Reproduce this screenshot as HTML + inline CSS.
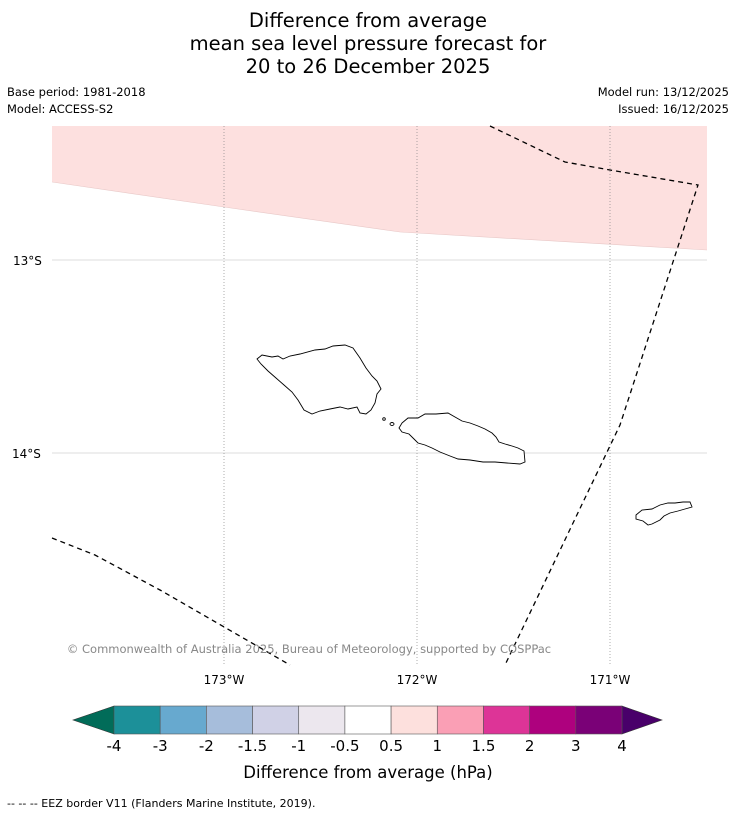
<!DOCTYPE html>
<html><head><meta charset="utf-8"><style>
body{margin:0;background:#fff;font-family:"Liberation Sans","DejaVu Sans",sans-serif;}
#wrap{position:relative;width:736px;height:816px;overflow:hidden;background:#fff;}
.t{position:absolute;white-space:nowrap;}
</style></head><body>
<div id="wrap">
<div class="t" style="left:0;width:736px;top:9px;text-align:center;font-size:19.5px;line-height:23px;font-family:'DejaVu Sans',sans-serif;">Difference from average<br>mean sea level pressure forecast for<br>20 to 26 December 2025</div>
<div class="t" style="left:7px;top:84px;font-size:11.5px;font-family:'DejaVu Sans',sans-serif;line-height:17px;">Base period: 1981-2018<br>Model: ACCESS-S2</div>
<div class="t" style="right:7px;top:84px;font-size:11.5px;font-family:'DejaVu Sans',sans-serif;line-height:17px;text-align:right;">Model run: 13/12/2025<br>Issued: 16/12/2025</div>
<svg width="736" height="816" style="position:absolute;left:0;top:0" font-family="DejaVu Sans, sans-serif">
<g>
<polygon points="52,126 707,126 707,250 400,232 224,207 52,182" fill="#fde0df"/>
<polyline points="52,182 224,207 400,232 707,250" fill="none" stroke="#e8c8c7" stroke-width="0.6"/>
<g stroke="#bbb" stroke-width="0.6">
<line x1="52" y1="260" x2="707" y2="260"/>
<line x1="52" y1="453" x2="707" y2="453"/>
<line x1="224" y1="126" x2="224" y2="665" stroke-dasharray="1,2" stroke="#777"/>
<line x1="417" y1="126" x2="417" y2="665" stroke-dasharray="1,2" stroke="#777"/>
<line x1="610" y1="126" x2="610" y2="665" stroke-dasharray="1,2" stroke="#777"/>
</g>
<g fill="none" stroke="#000" stroke-width="1.3" stroke-dasharray="5,4">
<polyline points="490,126 565,162 610,170 698,185 620,425 505,665"/>
<polyline points="52,538 95,555 160,590 290,665"/>
</g>
<g fill="#fff" stroke="#000" stroke-width="0.9">
<polygon points="257,359 262,355 272,357 278,356 283,359 290,356 300,354 315,350 325,349 333,346 345,345 353,348 360,358 366,368 372,376 377,381 381,389 377,394 375,403 371,410 366,414 360,413 357,407 348,409 340,407 330,409 320,411 312,414 304,410 298,400 292,392 284,385 276,378 268,371 261,364"/>
<polygon points="402,423 408,418 418,418 425,414 436,414 448,413 455,417 462,421 470,423 478,426 485,429 492,433 496,437 499,442 505,444 512,446 518,448 524,451 525,462 520,464 507,463 495,462 483,462 470,460 458,459 450,456 440,452 432,448 425,445 418,443 413,438 409,434 402,432 399,428"/>
<circle cx="384" cy="419" r="1.3"/><ellipse cx="392" cy="424" rx="2" ry="1.5"/>
<polygon points="636,515 642,510 652,509 660,505 668,503 675,503 683,502 690,502 692,507 685,509 678,511 670,513 664,516 660,520 652,524 648,525 643,521 636,519"/>
</g>
<text x="13" y="265" font-size="12">13°S</text>
<text x="12" y="458" font-size="12">14°S</text>
<text x="224" y="684" font-size="12" text-anchor="middle">173°W</text>
<text x="417" y="684" font-size="12" text-anchor="middle">172°W</text>
<text x="610" y="684" font-size="12" text-anchor="middle">171°W</text>
<text x="309" y="653" font-size="11.5" fill="#888" text-anchor="middle">© Commonwealth of Australia 2025, Bureau of Meteorology, supported by COSPPac</text>
</g>
<g id="cbar"></g>
<text x="368" y="778" font-size="16.5" text-anchor="middle">Difference from average (hPa)</text>
<text x="7" y="807" font-size="11">--  --  -- EEZ border V11 (Flanders Marine Institute, 2019).</text>
</svg>
</div>
<script>
const levels=["-4","-3","-2","-1.5","-1","-0.5","0.5","1","1.5","2","3","4"];
const colors=["#1c9099","#67a9cf","#a6bddb","#d0d1e6","#ece7ee","#ffffff","#fde0dd","#fa9fb5","#dd3497","#ae017e","#7a0177"];
const underColor="#016c59";
const overColor="#49006a";
const ns="http://www.w3.org/2000/svg";
const g=document.getElementById('cbar');
const x0=114,x1=622,y0=706,y1=734;
const w=(x1-x0)/colors.length;
function xs(i){return x0+i*w;}
function mk(t,a){const e=document.createElementNS(ns,t);for(const k in a)e.setAttribute(k,a[k]);g.appendChild(e);return e;}
let lo=mk('polygon',{points:`${x0},${y0} ${x0},${y1} 73,${(y0+y1)/2}`,fill:underColor,stroke:'#333','stroke-width':0.6});


let hi=mk('polygon',{points:`${x1},${y0} ${x1},${y1} 662,${(y0+y1)/2}`,fill:overColor,stroke:'#333','stroke-width':0.6});


colors.forEach((c,i)=>{
 const r=mk('rect',{x:xs(i),y:y0,width:w,height:y1-y0,fill:c,stroke:'#555','stroke-width':0.6});
 
 
});
levels.forEach((l,i)=>{
 const t=mk('text',{x:xs(i),y:751,'font-size':15,'text-anchor':'middle'});
 t.textContent=l;
 
 
});
</script>
</body></html>
